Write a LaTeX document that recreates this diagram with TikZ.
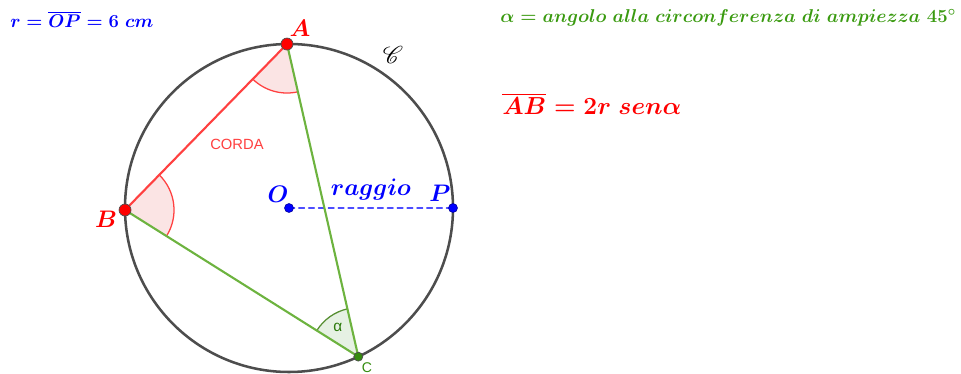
\RequirePackage{fix-cm}
\documentclass[tikz,border=0pt]{standalone}
\usepackage{fontspec}
\usepackage{amsmath,amssymb}
\usepackage{mathrsfs}
\newfontfamily\sansf{Liberation Sans}
\usetikzlibrary{calc,angles}

\definecolor{cerchio}{HTML}{4D4D4D}
\definecolor{rosso}{HTML}{FF0000}
\definecolor{corda}{HTML}{FF4040}
\definecolor{rosa}{HTML}{FBE4E4}
\definecolor{verde}{HTML}{3A9A10}
\definecolor{verdel}{HTML}{6DB33F}
\definecolor{verdech}{HTML}{E6F1E3}
\definecolor{blu}{HTML}{0000FF}
\definecolor{blul}{HTML}{4D4DFF}

\begin{document}
\begin{tikzpicture}[x=0.025cm,y=0.025cm,line cap=round,line join=round]

\def\R{164}
\def\angA{90.7}
\def\angB{180.7}
\def\angC{295}

\useasboundingbox (-289,-166) rectangle (672,208);

\coordinate (O) at (0,0);
\coordinate (P) at (\R,0);
\coordinate (A) at ({\R*cos(\angA)},{\R*sin(\angA)});
\coordinate (B) at ({\R*cos(\angB)},{\R*sin(\angB)});
\coordinate (C) at ({\R*cos(\angC)},{\R*sin(\angC)});

% angoli
\pic[draw=corda,fill=rosa,line width=0.9pt,angle radius=1.225cm] {angle=B--A--C};
\pic[draw=corda,fill=rosa,line width=0.9pt,angle radius=1.225cm] {angle=C--B--A};
\pic[draw=verdel!80!black,fill=verdech,line width=0.9pt,angle radius=1.225cm,
  pic text={\sansf\color{verde!80!black}\fontsize{11}{12}\selectfont α},angle eccentricity=0.72] {angle=A--C--B};

% circonferenza
\draw[cerchio,line width=1.8pt] (O) circle (\R);

% raggio
\draw[blul,line width=1pt,dash pattern=on 4pt off 3pt] (O)--(P);

% lati
\draw[corda,line width=1.5pt] (A)--(B);
\draw[verdel,line width=1.5pt] (B)--(C);
\draw[verdel,line width=1.5pt] (A)--(C);

% punti
\filldraw[fill=red,draw=black!70,line width=0.5pt] (A) circle (6);
\filldraw[fill=red,draw=black!70,line width=0.5pt] (B) circle (6);
\filldraw[fill=verde!90!black,draw=black!70,line width=0.5pt] (C) circle (4.5);
\filldraw[fill=blu,draw=blu!60!black,line width=0.4pt] (O) circle (4.5);
\filldraw[fill=blu,draw=blu!60!black,line width=0.4pt] (P) circle (4.5);

% etichette
\node[rosso,font=\boldmath\fontsize{17}{18}\selectfont] (labA) at (11,180) {$A$};
\node[rosso,font=\boldmath\fontsize{17}{18}\selectfont] (labB) at (-183,-11) {$B$};
\node[blu,font=\boldmath\fontsize{17}{18}\selectfont] (labO) at (-11,14) {$O$};
\node[blu,font=\boldmath\fontsize{17}{18}\selectfont] (labP) at (151,15) {$P$};
\node[blu,font=\boldmath\fontsize{17}{18}\selectfont] (labraggio) at (82,18) {$raggio$};
\node[verde!90!black,font=\sansf\fontsize{10}{12}\selectfont] (labC) at (78,-160) {C};
\node[corda,font=\sansf\fontsize{10.5}{12}\selectfont] (labcorda) at (-52,64) {CORDA};
\node[font=\fontsize{16}{18}\selectfont] (labcirc) at (104,153) {$\mathscr{C}$};

% testi
\node[blu,anchor=west,inner sep=0pt,font=\boldmath\fontsize{13.1}{15}\selectfont] (txtr) at (-279,189) {$r=\overline{OP}=6\ cm$};
\node[verde,anchor=west,inner sep=0pt,font=\boldmath\fontsize{13.2}{15}\selectfont] (txtalfa) at (211,190)
  {$\alpha=angolo\ alla\ circonferenza\ di\ ampiezza\ 45^\circ$};
\node[rosso,anchor=west,inner sep=0pt,font=\boldmath\fontsize{17.5}{19}\selectfont] (txtAB) at (213,104)
  {$\overline{AB}=2r\ sen\alpha$};

\end{tikzpicture}
\end{document}
